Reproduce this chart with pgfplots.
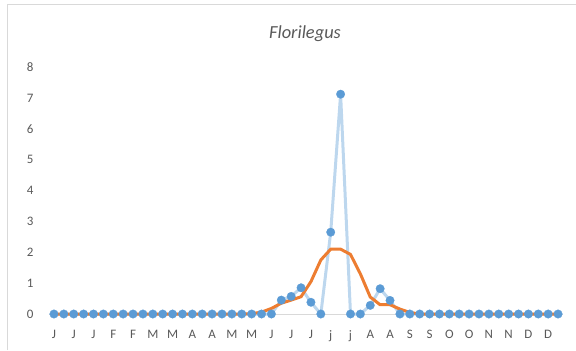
\documentclass[border=0pt]{standalone}
\usepackage{pgfplots}
\usepackage{pgfplotstable}
\pgfplotsset{compat=1.18}
\usepackage{fontspec}
\setmainfont{Carlito}

\definecolor{markblue}{HTML}{5B9BD5}
\definecolor{lineblue}{HTML}{BDD7EE}
\definecolor{orangeline}{HTML}{ED7D31}
\definecolor{txtgray}{HTML}{595959}
\definecolor{framegray}{HTML}{D9D9D9}

% weekly values, index 0..51
\pgfplotstableread{
x y
0 0
1 0
2 0
3 0
4 0
5 0
6 0
7 0
8 0
9 0
10 0
11 0
12 0
13 0
14 0
15 0
16 0
17 0
18 0
19 0
20 0
21 0
22 0
23 0.45
24 0.57
25 0.85
26 0.38
27 0
28 2.65
29 7.12
30 0
31 0
32 0.28
33 0.82
34 0.44
35 0
36 0
37 0
38 0
39 0
40 0
41 0
42 0
43 0
44 0
45 0
46 0
47 0
48 0
49 0
50 0
51 0
}\weekly

% smoothed trend
\pgfplotstableread{
x y
0 0
19 0
20 0.01
21 0.06
22 0.18
23 0.35
24 0.45
25 0.56
26 1.05
27 1.75
28 2.1
29 2.1
30 1.93
31 1.3
32 0.55
33 0.3
34 0.3
35 0.16
36 0.05
37 0
51 0
}\trend

\begin{document}
\begin{tikzpicture}[x=1bp,y=1bp]
\useasboundingbox (0,0) rectangle (576,350);
\draw[framegray, line width=1bp] (7,0) -- (7,345) -- (576,345);
\node[font=\fontsize{18.5}{20}\selectfont\itshape, text=txtgray] at (305,316) {Florilegus};
\begin{axis}[
    at={(49bp,36bp)}, anchor=south west,
    scale only axis,
    width=514bp, height=247bp,
    xmin=-0.5, xmax=51.5,
    ymin=0, ymax=8,
    clip=false,
    axis line style={draw=none},
    axis x line*=bottom,
    axis y line=none,
    ytick={0,1,...,8},
    xtick={0,2,...,50},
    xticklabels={J,J,J,F,F,M,M,A,A,M,M,J,J,J,j,j,A,A,S,S,O,O,N,N,D,D},
    tick style={draw=none},
    ticklabel style={font=\fontsize{13}{15}\selectfont, text=txtgray},
    xticklabel style={yshift=-13bp},
    /pgf/number format/assume math mode=true,
]
\draw[framegray, line width=1bp] (axis cs:-0.5,0) -- (axis cs:51.5,0);
\pgfplotsinvokeforeach{0,1,...,8}{
  \node[font=\fontsize{13}{15}\selectfont, text=txtgray, anchor=east] at (axis cs:-0.5,#1) [xshift=-12bp] {#1};
}
\addplot[lineblue, line width=3bp, mark=*, mark size=4.3bp,
  mark options={fill=markblue, draw=markblue, line width=0.2bp}] table {\weekly};
\addplot[orangeline, line width=3bp, no marks] table {\trend};
\end{axis}
\end{tikzpicture}
\end{document}
